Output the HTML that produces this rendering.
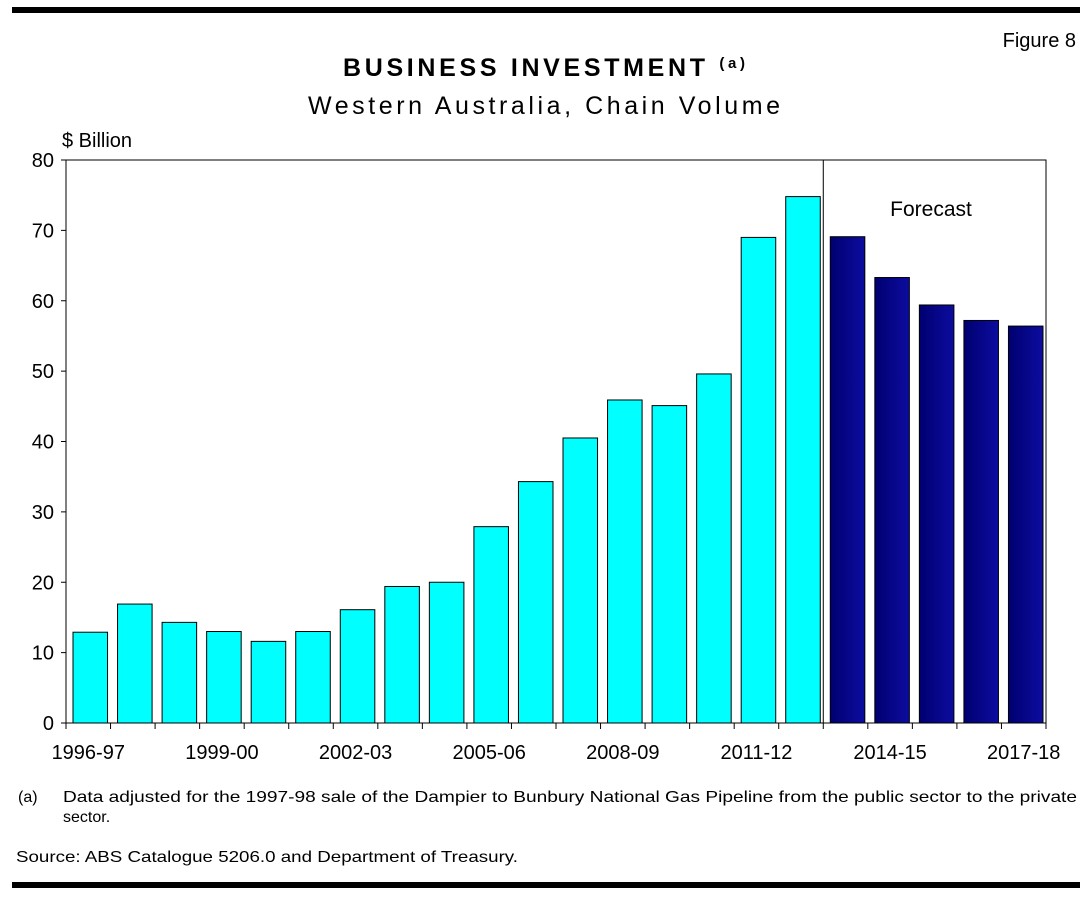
<!DOCTYPE html>
<html><head><meta charset="utf-8"><style>
body{margin:0;background:#fff;width:1087px;height:902px;overflow:hidden;font-family:"Liberation Sans",Arial,sans-serif}
</style></head><body>
<svg width="1087" height="902" xmlns="http://www.w3.org/2000/svg" font-family="Liberation Sans, Arial, sans-serif">
<defs><linearGradient id="fg" x1="0" x2="1" y1="0" y2="0"><stop offset="0" stop-color="#000070"/><stop offset="1" stop-color="#0c0ca0"/></linearGradient></defs>
<rect x="12" y="7" width="1068" height="6" fill="#000"/>
<rect x="12" y="882" width="1068" height="6" fill="#000"/>
<text x="1076" y="47" font-size="20" text-anchor="end">Figure 8</text>
<text x="343" y="76" font-size="25" font-weight="bold" textLength="402" lengthAdjust="spacing">BUSINESS INVESTMENT <tspan font-size="15" dy="-8">(a)</tspan></text>
<text x="308" y="114" font-size="25" textLength="472" lengthAdjust="spacing">Western Australia, Chain Volume</text>
<text x="62" y="147" font-size="20">$ Billion</text>
<g id="plot"></g>
<text x="18" y="802" font-size="16">(a)</text>
<text x="63" y="802" font-size="16" textLength="1014" lengthAdjust="spacingAndGlyphs">Data adjusted for the 1997-98 sale of the Dampier to Bunbury National Gas Pipeline from the public sector to the private</text>
<text x="63" y="822" font-size="16">sector.</text>
<text x="16" y="862" font-size="16" textLength="502" lengthAdjust="spacingAndGlyphs">Source: ABS Catalogue 5206.0 and Department of Treasury.</text>
</svg>
<script>
const categories=["1996-97","1997-98","1998-99","1999-00","2000-01","2001-02","2002-03","2003-04","2004-05","2005-06","2006-07","2007-08","2008-09","2009-10","2010-11","2011-12","2012-13","2013-14","2014-15","2015-16","2016-17","2017-18"];
const values=[12.9,16.9,14.3,13.0,11.6,13.0,16.1,19.4,20.0,27.9,34.3,40.5,45.9,45.1,49.6,69.0,74.8,69.1,63.3,59.4,57.2,56.4];
const forecastStart=17;
const yTicks=[0,10,20,30,40,50,60,70,80];
const xLabelIdx=[0,3,6,9,12,15,18,21];
const NS="http://www.w3.org/2000/svg";
const g=document.getElementById('plot');
const L=66,R=1046,T=160,B=723,yMax=80;
const bw=(R-L)/categories.length;
const y=v=>B-(v/yMax)*(B-T);
const x=i=>L+i*bw;
function mk(t,a){const e=document.createElementNS(NS,t);for(const k in a)e.setAttribute(k,a[k]);g.appendChild(e);return e;}
const frame=mk('rect',{x:L,y:T,width:R-L,height:B-T,fill:'none',stroke:'#000','stroke-width':1});


values.forEach((v,i)=>{
 const f=i>=forecastStart;
 const r=mk('rect',{x:x(i)+7,y:y(v),width:bw-10,height:B-y(v),fill:f?'url(#fg)':'#00ffff',stroke:'#000','stroke-width':1});
 
 
});
const div=mk('line',{x1:x(forecastStart),x2:x(forecastStart),y1:T,y2:B,stroke:'#000','stroke-width':1});


const fl=mk('text',{x:931,y:216,'font-size':21,'text-anchor':'middle'});fl.textContent='Forecast';


yTicks.forEach(t=>{
 const tk=mk('line',{x1:L-5,x2:L,y1:y(t),y2:y(t),stroke:'#000'});
 
 
 const tl=mk('text',{x:L-12,y:y(t)+7,'font-size':20,'text-anchor':'end'});tl.textContent=t;
 
 
});
for(let i=0;i<=categories.length;i++){
 const tk=mk('line',{x1:x(i),x2:x(i),y1:B,y2:B+6,stroke:'#000'});
 
 
}
xLabelIdx.forEach(i=>{
 const tl=mk('text',{x:x(i)+bw/2,y:B+36,'font-size':20,'text-anchor':'middle'});tl.textContent=categories[i];
 
 
});
</script>
</body></html>
